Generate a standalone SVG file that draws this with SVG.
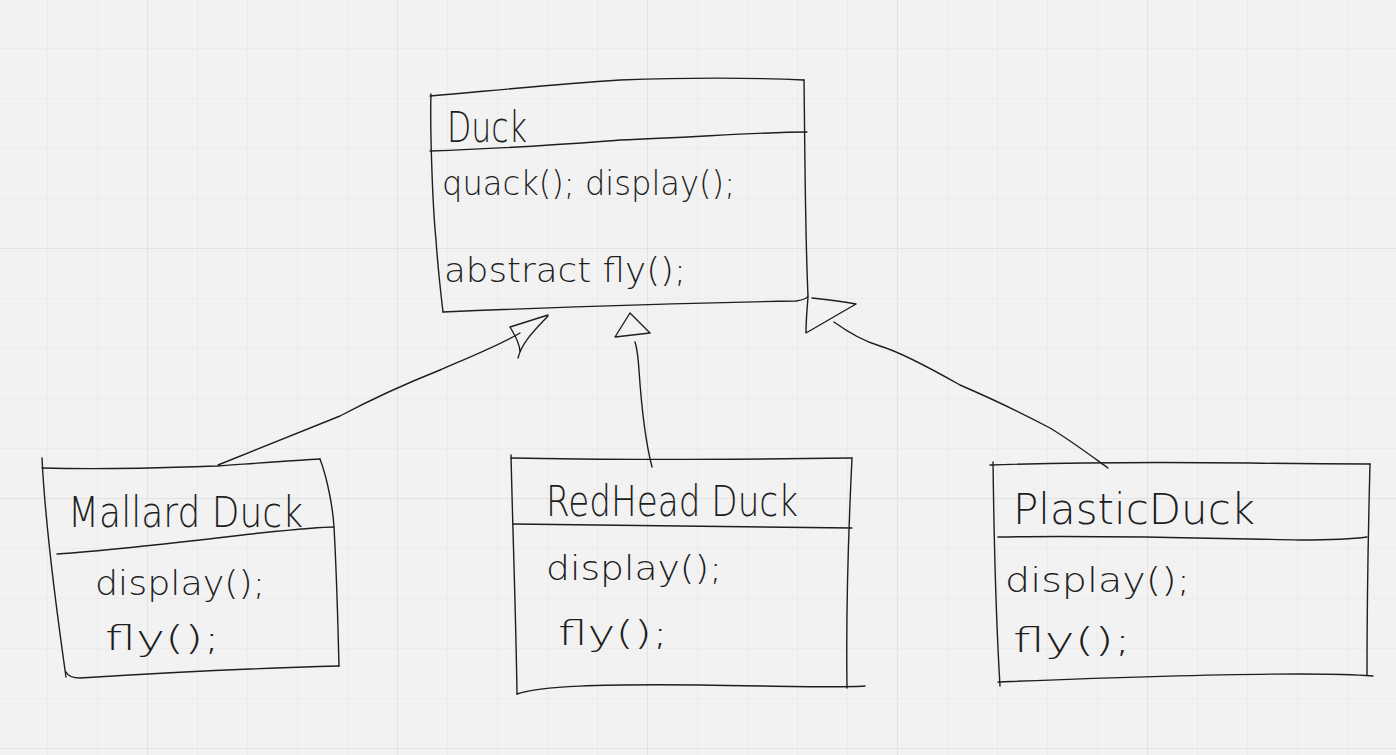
<svg xmlns="http://www.w3.org/2000/svg" width="1396" height="755" viewBox="0 0 1396 755">
<defs>
<pattern id="minor" x="-2" y="-1" width="50" height="50" patternUnits="userSpaceOnUse">
<path d="M50 0V50M0 50H50" fill="none" stroke="#e6e6e6" stroke-width="1.2"/>
</pattern>
<pattern id="major" x="-102" y="-1" width="250" height="250" patternUnits="userSpaceOnUse">
<path d="M250 0V250M0 250H250" fill="none" stroke="#e0e0e0" stroke-width="1.4"/>
</pattern>
</defs>
<style>
.ln{fill:none;stroke:#1e1e1e;stroke-width:1.4;stroke-linecap:round;stroke-linejoin:round}
.t{font-family:"DejaVu Sans","Liberation Sans",sans-serif;fill:#1e1e1e;font-weight:300}
.title{font-size:42px}
.m{font-size:34px}
</style>
<rect width="1396" height="755" fill="#f2f2f2"/>
<rect width="1396" height="755" fill="url(#minor)"/>
<rect width="1396" height="755" fill="url(#major)"/>

<g id="duck">
<path class="ln" d="M430 96 C520 88 560 84 620 80 C700 77 760 78 804 80"/>
<path class="ln" d="M431 94 C430 120 432 200 436 240 C438 270 441 295 443 312"/>
<path class="ln" d="M443 312 C560 307 680 303 796 301 C805 300 808 297 808 296"/>
<path class="ln" d="M804 80 C805 150 805 230 808 296"/>
<path class="ln" d="M430 151 C520 148 580 143 620 140 C700 137 760 132 807 132"/>
<text class="t title" x="447" y="142" textLength="80" lengthAdjust="spacingAndGlyphs">Duck</text>
<text class="t m" x="442" y="195" textLength="293" lengthAdjust="spacingAndGlyphs">quack(); display();</text>
<text class="t m" x="444" y="282" textLength="242" lengthAdjust="spacingAndGlyphs">abstract fly();</text>
</g>

<g id="mallard">
<path class="ln" d="M42 468 C120 470 180 467 218 466 C260 463 300 460 320 459"/>
<path class="ln" d="M42 458 C45 520 55 600 66 677"/>
<path class="ln" d="M66 672 C68 676 72 678 80 678 C160 673 260 668 339 666"/>
<path class="ln" d="M320 459 C328 480 333 510 334 527 C337 580 338 630 339 666"/>
<path class="ln" d="M57 554 C120 550 200 540 260 533 C290 530 320 527 334 527"/>
<text class="t title" x="68" y="527" textLength="235" lengthAdjust="spacingAndGlyphs">Mallard Duck</text>
<text class="t m" x="95" y="595" textLength="170" lengthAdjust="spacingAndGlyphs">display();</text>
<text class="t m" x="105" y="650" textLength="115" lengthAdjust="spacingAndGlyphs">fly();</text>
</g>

<g id="redhead">
<path class="ln" d="M511 458 C600 460 700 460 852 458"/>
<path class="ln" d="M511 455 C513 540 516 620 517 694"/>
<path class="ln" d="M517 694 C540 686 600 684 700 685 C780 686 840 688 865 686"/>
<path class="ln" d="M852 458 C848 540 846 620 847 688"/>
<path class="ln" d="M513 524 C600 524 700 526 852 528"/>
<text class="t title" x="546" y="516" textLength="252" lengthAdjust="spacingAndGlyphs">RedHead Duck</text>
<text class="t m" x="546" y="580" textLength="176" lengthAdjust="spacingAndGlyphs">display();</text>
<text class="t m" x="558" y="645" textLength="110" lengthAdjust="spacingAndGlyphs">fly();</text>
</g>

<g id="plastic">
<path class="ln" d="M990 465 C1080 462 1160 462 1250 463 C1310 464 1350 464 1370 464"/>
<path class="ln" d="M993 462 C994 540 996 620 1000 686"/>
<path class="ln" d="M998 682 C1100 678 1200 674 1300 674 C1340 674 1360 675 1373 676"/>
<path class="ln" d="M1370 464 C1368 540 1367 610 1367 675"/>
<path class="ln" d="M998 537 C1100 535 1200 538 1300 540 C1340 540 1360 538 1367 537"/>
<text class="t title" x="1013" y="524" textLength="242" lengthAdjust="spacingAndGlyphs">PlasticDuck</text>
<text class="t m" x="1005" y="592" textLength="185" lengthAdjust="spacingAndGlyphs">display();</text>
<text class="t m" x="1013" y="652" textLength="118" lengthAdjust="spacingAndGlyphs">fly();</text>
</g>

<g id="connectors">
<path class="ln" d="M218 465 C260 448 300 432 340 416 C370 400 400 386 440 370 C470 357 500 345 520 333"/>
<path class="ln" d="M548 315 L510 327 M548 316 C535 330 522 342 518 358 M510 327 C515 335 520 345 520 352"/>
<path class="ln" d="M652 467 C645 440 641 400 639 370 C638 355 636 345 635 342"/>
<path class="ln" d="M630 313 L615 337 L650 333 Z"/>
<path class="ln" d="M1108 468 C1090 455 1070 440 1050 428 C1020 412 990 398 960 385 C930 368 900 352 880 346 C860 340 845 330 834 322"/>
<path class="ln" d="M812 298 C830 300 845 302 856 304 L806 333 C806 320 807 310 808 297"/>
</g>
</svg>
